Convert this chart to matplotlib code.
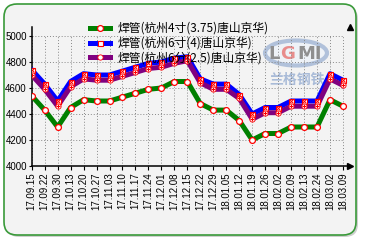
import matplotlib
matplotlib.use('Agg')
import matplotlib.pyplot as plt
from matplotlib.patches import FancyBboxPatch, Ellipse
from matplotlib.lines import Line2D

# categories (dates) and the three price series
dates = ['17.09.15', '17.09.22', '17.09.30', '17.10.13', '17.10.20', '17.10.27',
         '17.11.03', '17.11.10', '17.11.17', '17.11.24', '17.12.01', '17.12.08',
         '17.12.15', '17.12.22', '17.12.29', '18.01.05', '18.01.12', '18.01.19',
         '18.01.26', '18.02.02', '18.02.09', '18.02.13', '18.02.24', '18.03.02',
         '18.03.09']
green = [4540, 4430, 4300, 4450, 4510, 4500, 4500, 4530, 4560, 4590, 4600, 4650, 4650,
         4480, 4430, 4430, 4350, 4200, 4250, 4250, 4300, 4300, 4300, 4510, 4460]
blue = [4740, 4630, 4500, 4650, 4710, 4700, 4700, 4730, 4760, 4790, 4800, 4830, 4840,
        4670, 4630, 4630, 4550, 4400, 4450, 4450, 4500, 4500, 4500, 4710, 4660]
purple = [4700, 4590, 4460, 4610, 4670, 4660, 4660, 4690, 4720, 4750, 4760, 4790, 4810,
          4640, 4590, 4590, 4520, 4360, 4410, 4410, 4460, 4460, 4460, 4670, 4620]
labels = ['焊管(杭州4寸(3.75)唐山京华)', '焊管(杭州6寸(4)唐山京华)', '焊管(杭州6分(2.5)唐山京华)']
yticks = [4000, 4200, 4400, 4600, 4800, 5000]

cjk = ['Noto Sans CJK SC', 'DejaVu Sans']
W, H = 365, 245
fig = plt.figure(figsize=(W / 100, H / 100), dpi=100)
fig.patch.set_facecolor('white')

# background layer in pixel coords: shadow, rounded frame, watermark
bg = fig.add_axes([0, 0, 1, 1], zorder=0)
bg.set_xlim(0, W)
bg.set_ylim(H, 0)
bg.axis('off')
bg.add_patch(FancyBboxPatch((6, 6), 352, 231, boxstyle='round,pad=0,rounding_size=13',
                            fc='#b0b0b0', ec='none', alpha=0.6))
bg.add_patch(FancyBboxPatch((4, 4), 352, 231, boxstyle='round,pad=0,rounding_size=13',
                            fc='#f3f3f3', ec='#3a9a3a', lw=1.2))
bg.add_patch(Ellipse((296, 53), 62, 25, fc='#eef2f8', ec='#aabcd8', lw=3, alpha=0.9))
bg.text(274, 54, 'L', fontsize=13, color='#8f8f8f', fontweight='bold', ha='center', va='center')
bg.text(288, 54, 'G', fontsize=13, color='#e88c8c', fontweight='bold', ha='center', va='center')
bg.text(310, 54, 'MI', fontsize=13, color='#8f8f8f', fontweight='bold', ha='center', va='center')
bg.text(297, 80, '兰格钢铁', fontsize=10, color='#a9bbd8', ha='center', va='center',
        family=cjk, fontweight='bold')

# main plot
x0, x1, ytop, ybot = 31.7, 350, 27, 166
ax = fig.add_axes([x0 / W, 1 - ybot / H, (x1 - x0) / W, (ybot - ytop) / H], zorder=1)
ax.set_facecolor('none')
n = len(dates)
xs = list(range(n))
ax.set_xlim(0, (x1 - x0) / 12.97)
ax.set_ylim(4000, 4000 + (ybot - ytop) / 0.13)

for y in yticks:
    ax.plot([0, n - 1], [y, y], color='#888888', lw=0.7, ls=(0, (1, 2)), zorder=1)
for xx in xs:
    ax.plot([xx, xx], [4000, 5000], color='#888888', lw=0.7, ls=(0, (1, 2)), zorder=1)

lw = 3.6
ax.plot(xs, green, color='#008000', lw=lw, solid_joinstyle='round', zorder=3)
ax.plot(xs, green, ls='none', marker='o', ms=4.2, mfc='white', mec='red', mew=0.9, zorder=4)
ax.plot(xs, blue, color='#0000ff', lw=lw, solid_joinstyle='round', zorder=3)
ax.plot(xs, blue, ls='none', marker='s', ms=3.6, mfc='white', mec='red', mew=0.8, zorder=4)
ax.plot(xs, blue, ls='none', marker='x', ms=2.6, mec='red', mew=0.7, zorder=5)
ax.plot(xs, purple, color='#800080', lw=lw, solid_joinstyle='round', zorder=3)
ax.plot(xs, purple, ls='none', marker='o', ms=3.8, mfc='white', mec='red', mew=0.6, zorder=4)
ax.plot(xs, purple, ls='none', marker='+', ms=2.8, mec='red', mew=0.8, zorder=5)

for s in ['top', 'right']:
    ax.spines[s].set_visible(False)
for s in ['left', 'bottom']:
    ax.spines[s].set_linewidth(1.1)
    ax.spines[s].set_color('black')
ax.plot(1, 1, '^k', ms=5, transform=ax.transAxes, clip_on=False)
ax.plot(1, 0, '>k', ms=5, transform=ax.transAxes, clip_on=False)

ax.set_xticks(xs)
ax.set_xticklabels(dates, rotation=90, fontsize=7, family='Liberation Sans')
ax.set_yticks(yticks)
ax.set_yticklabels([str(v) for v in yticks], fontsize=7, family='Liberation Sans')
ax.tick_params(axis='x', length=3, width=0.8, pad=1.5)
ax.tick_params(axis='y', length=2.5, width=0.8, pad=1)

handles = [
    Line2D([], [], color='#008000', lw=lw, marker='o', ms=4.2, mfc='white', mec='red', mew=0.9),
    Line2D([], [], color='#0000ff', lw=lw, marker='s', ms=3.6, mfc='white', mec='red', mew=0.8),
    Line2D([], [], color='#800080', lw=lw, marker='o', ms=3.8, mfc='white', mec='red', mew=0.6),
]
leg = fig.legend(handles, labels, loc='upper left', bbox_to_anchor=(84 / W, 1 - 16 / H),
                 frameon=False, prop={'family': cjk, 'size': 8.5}, handlelength=1.7,
                 handletextpad=0.6, labelspacing=0.15, borderpad=0, markerscale=1)
leg.set_zorder(6)

fig.savefig('out.png', dpi=100, facecolor='white')
